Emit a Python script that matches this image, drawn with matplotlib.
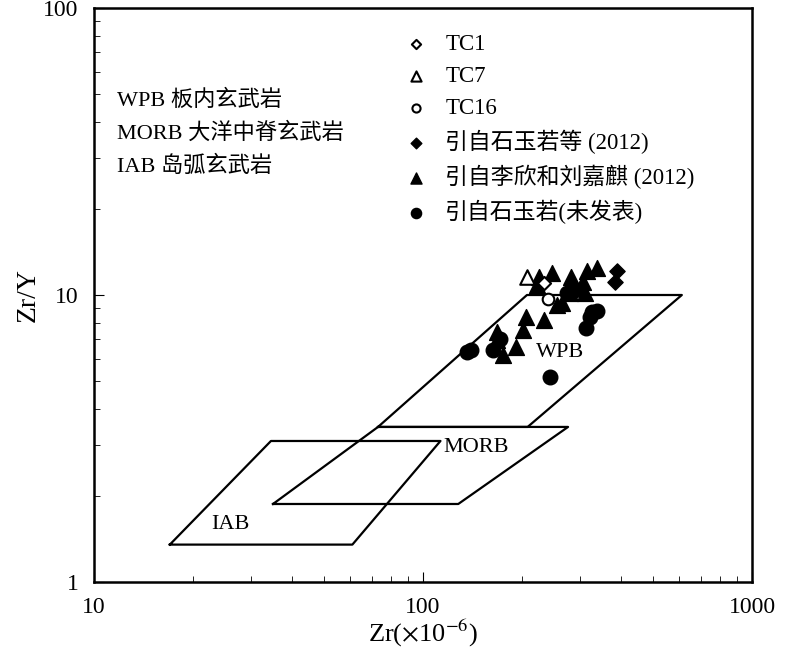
import numpy as np
import matplotlib
matplotlib.use("Agg")
import matplotlib.pyplot as plt
from matplotlib.ticker import LogLocator, NullFormatter, FixedLocator

plt.rcParams['font.family'] = ['Liberation Serif', 'Noto Sans CJK SC']
plt.rcParams['mathtext.fontset'] = 'stix'

# field boundaries (Zr, Zr/Y)
wpb_zr = [73, 207, 612, 208, 73]
wpb_zry = [3.47, 10, 10, 3.47, 3.47]
morb_zr = [35, 73, 276, 128, 35]
morb_zry = [1.87, 3.47, 3.47, 1.87, 1.87]
iab_zr = [17, 34.5, 113, 61, 17]
iab_zry = [1.35, 3.1, 3.1, 1.35, 1.35]

# samples
tc1_zr = [233]
tc1_zry = [11.0]
tc7_zr = [207]
tc7_zry = [11.6]
tc16_zr = [240]
tc16_zry = [9.7]
shi2012_zr = [389, 384]
shi2012_zry = [12.1, 11.1]
li2012_zr = [225, 222, 247, 282, 284, 315, 338, 306, 311, 280, 255, 264,
             206, 201, 233, 168, 168, 192, 175]
li2012_zry = [11.6, 10.8, 11.9, 11.6, 11.0, 12.1, 12.4, 11.1, 10.2, 10.2, 9.2, 9.4,
              8.4, 7.55, 8.2, 7.43, 6.97, 6.59, 6.18]
shi_un_zr = [136, 140, 163, 171, 274, 290, 326, 338, 322, 313, 243]
shi_un_zry = [6.33, 6.43, 6.43, 7.03, 10.2, 10.4, 8.7, 8.8, 8.4, 7.7, 5.18]

labels = ['TC1', 'TC7', 'TC16', '引自石玉若等 (2012)', '引自李欣和刘嘉麒 (2012)', '引自石玉若(未发表)']

fig = plt.figure(figsize=(8, 6.5), dpi=100)
ax = fig.add_axes([0.1175, 0.1046, 0.8225, 0.8831])
ax.set_xscale('log')
ax.set_yscale('log')
ax.set_xlim(10, 1000)
ax.set_ylim(1, 100)

for xs, ys in [(wpb_zr, wpb_zry), (morb_zr, morb_zry), (iab_zr, iab_zry)]:
    ax.plot(xs, ys, color='black', lw=1.6, zorder=1)

ax.text(261, 6.3, 'WPB', fontsize=16, ha='center', va='center')
ax.text(145, 2.95, 'MORB', fontsize=16, ha='center', va='center')
ax.text(26, 1.58, 'IAB', fontsize=16, ha='center', va='center')

h1 = ax.scatter(tc1_zr, tc1_zry, marker='D', s=45, facecolor='white', edgecolor='black', lw=1.5, zorder=3)
h2 = ax.scatter(tc7_zr, tc7_zry, marker='^', s=110, facecolor='white', edgecolor='black', lw=1.5, zorder=3)
h3 = ax.scatter(tc16_zr, tc16_zry, marker='o', s=70, facecolor='white', edgecolor='black', lw=1.5, zorder=3)
h4 = ax.scatter(shi2012_zr, shi2012_zry, marker='D', s=60, color='black', zorder=2)
h5 = ax.scatter(li2012_zr, li2012_zry, marker='^', s=130, color='black', zorder=2)
h6 = ax.scatter(shi_un_zr, shi_un_zry, marker='o', s=110, color='black', zorder=2)

leg = ax.legend([h1, h2, h3, h4, h5, h6], labels, loc='upper left',
                bbox_to_anchor=(0.44, 0.99), frameon=False, fontsize=16.5,
                markerscale=0.7, handletextpad=0.8, labelspacing=0.47,
                handlelength=1.0)

ax.text(0.035, 0.84, 'WPB 板内玄武岩', transform=ax.transAxes, fontsize=16, va='center')
ax.text(0.035, 0.782, 'MORB 大洋中脊玄武岩', transform=ax.transAxes, fontsize=16, va='center')
ax.text(0.035, 0.724, 'IAB 岛弧玄武岩', transform=ax.transAxes, fontsize=16, va='center')

for s in ax.spines.values():
    s.set_linewidth(1.8)
ax.tick_params(which='both', direction='in', top=False, right=False)
ax.tick_params(which='major', length=7, width=0.8, labelsize=17, pad=11)
ax.tick_params(which='minor', length=4, width=0.6)
ax.xaxis.set_major_locator(FixedLocator([10, 100, 1000]))
ax.yaxis.set_major_locator(FixedLocator([1, 10, 100]))
ax.xaxis.set_minor_locator(LogLocator(base=10, subs=np.arange(2, 10)))
ax.yaxis.set_minor_locator(LogLocator(base=10, subs=np.arange(2, 10)))
ax.xaxis.set_minor_formatter(NullFormatter())
ax.yaxis.set_minor_formatter(NullFormatter())
ax.set_xticklabels(['10', '100', '1000'])
ax.set_yticklabels(['1', '10', '100'])

ax.set_xlabel(r'Zr($\times$10$^{-6}$)', fontsize=19, labelpad=0)
ax.set_ylabel('Zr/Y', fontsize=20, labelpad=2)

fig.savefig('out.png', dpi=100)
